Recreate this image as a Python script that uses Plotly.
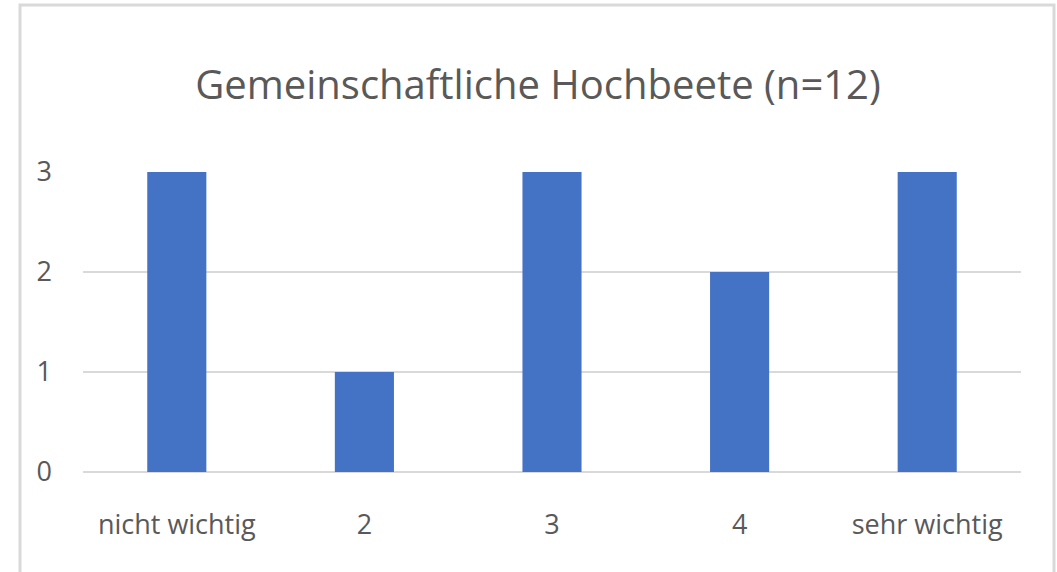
import plotly.graph_objects as go

categories = ["nicht wichtig", "2", "3", "4", "sehr wichtig"]
values = [3, 1, 3, 2, 3]
y_ticks = [0, 1, 2, 3]

FONT = "Open Sans, sans-serif"
GRAY = "#595959"

fig = go.Figure(go.Bar(x=categories, y=values, marker=dict(color="#4472c4", line=dict(width=0)),
                       width=0.315))

fig.update_layout(
    width=1057, height=572,
    margin=dict(l=83, r=36, t=172, b=100),
    paper_bgcolor="white", plot_bgcolor="white",
    showlegend=False,
    title=dict(text="Gemeinschaftliche Hochbeete (n=12)", x=538/1057, xanchor="center",
               y=1-85/572, yanchor="middle", font=dict(family=FONT, size=40, color=GRAY)),
    xaxis=dict(type="category", showgrid=False, showline=False, ticks="",
               tickfont=dict(family=FONT, size=27, color=GRAY), ticklabelstandoff=34),
    yaxis=dict(range=[0, 3.0], tickvals=y_ticks, showgrid=True, gridcolor="#d9d9d9", gridwidth=2,
               zeroline=True, zerolinecolor="#d9d9d9", zerolinewidth=2, showline=False,
               tickfont=dict(family=FONT, size=27, color=GRAY), ticklen=0, ticks="",
               ticklabelstandoff=30),
    shapes=[dict(type="rect", xref="paper", yref="paper",
                 x0=(20-83)/938, x1=(1054-83)/938, y0=-0.4, y1=(472-5)/300,
                 line=dict(color="#d9d9d9", width=3), fillcolor="rgba(0,0,0,0)", layer="below")],
)
fig.write_html("out.html", config={"displayModeBar": False},
               post_script="document.body.style.margin='0';")
